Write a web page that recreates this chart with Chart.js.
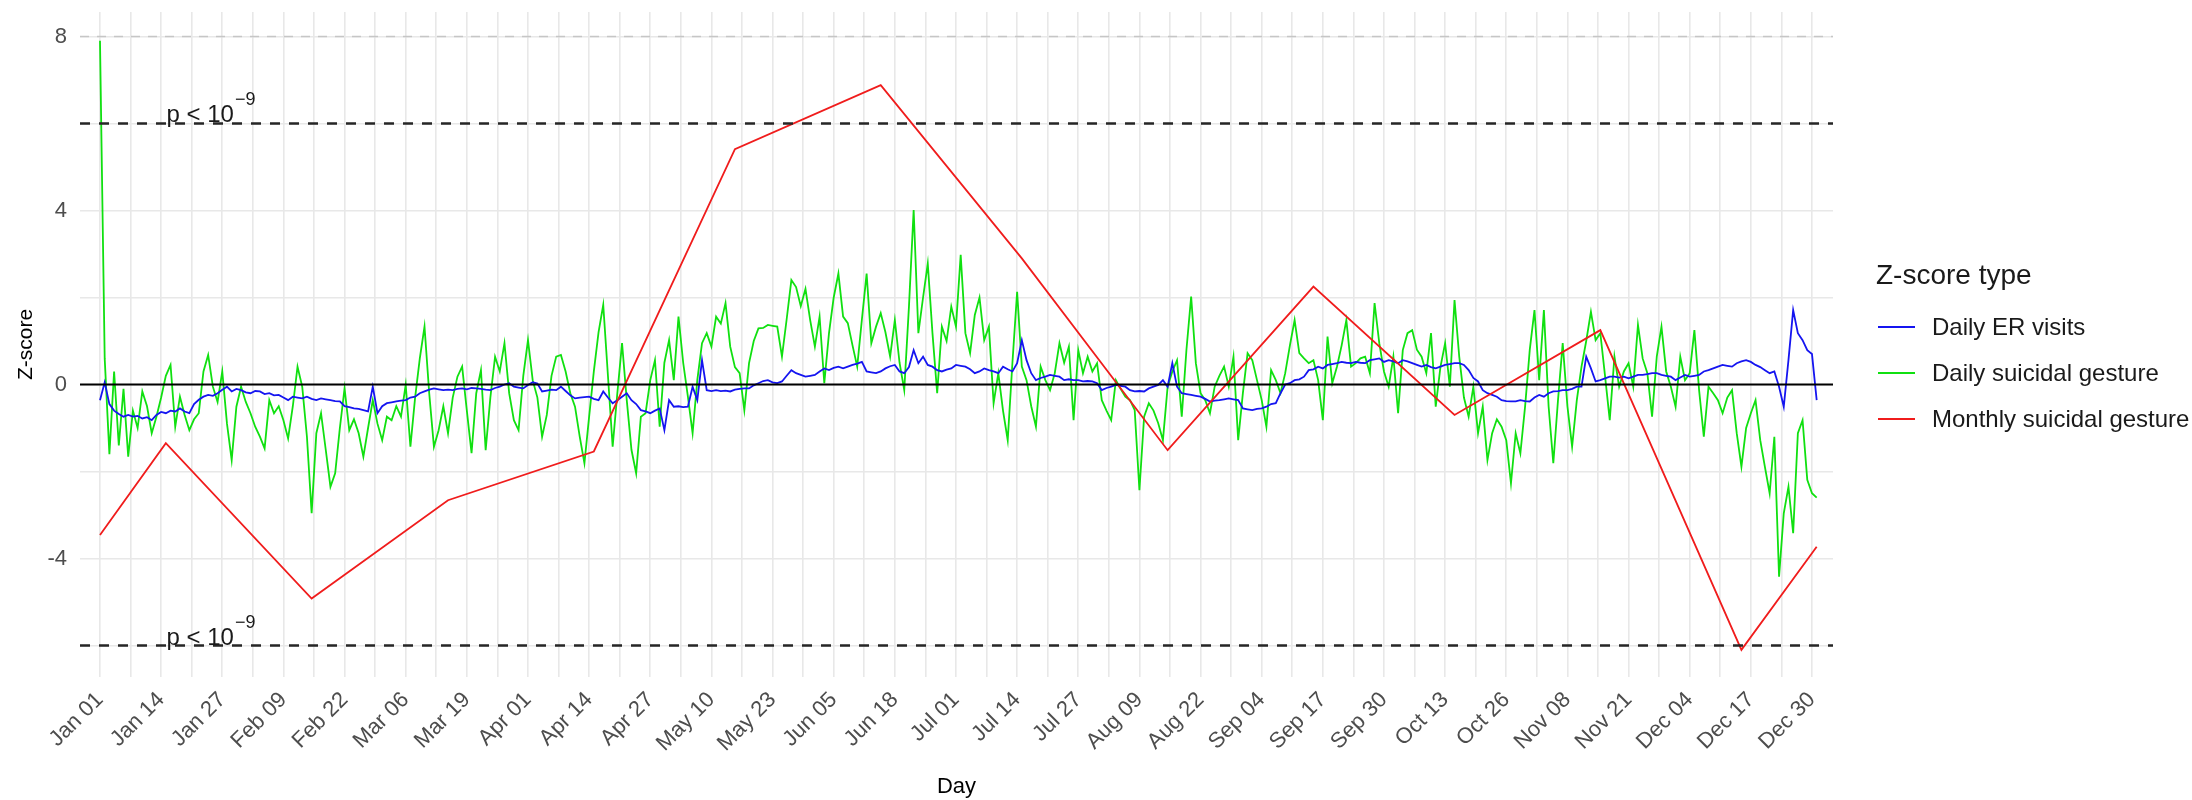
<!DOCTYPE html>
<html>
<head>
<meta charset="utf-8">
<script src="https://cdn.jsdelivr.net/npm/chart.js@4.4.1/dist/chart.umd.min.js"></script>
<style>
html,body{margin:0;padding:0;background:#ffffff;}
#wrap{width:2192px;height:800px;}
</style>
</head>
<body>
<div id="wrap"><canvas id="c" width="2192" height="800"></canvas></div>
<script>
// ---------------- DATA ----------------
const tickLabels = ['Jan 01','Jan 14','Jan 27','Feb 09','Feb 22','Mar 06','Mar 19','Apr 01','Apr 14','Apr 27','May 10','May 23','Jun 05','Jun 18','Jul 01','Jul 14','Jul 27','Aug 09','Aug 22','Sep 04','Sep 17','Sep 30','Oct 13','Oct 26','Nov 08','Nov 21','Dec 04','Dec 17','Dec 30'];
const tickDays = [0,13,26,39,52,65,78,91,104,117,130,143,156,169,182,195,208,221,234,247,260,273,286,299,312,325,338,351,364];

const yTickValues = [-6,-4,-2,0,2,4,6,8];
const yLabelledValues = [-4,0,4,8];

// Daily ER visits z-score (day 0 = Jan 01 ... day 365 = Dec 31)
const erVisitsZ = [
 -0.36,0.05,-0.45,-0.6,-0.68,-0.74,-0.7,-0.74,-0.72,-0.78,
 -0.75,-0.82,-0.7,-0.63,-0.66,-0.6,-0.62,-0.55,-0.62,-0.66,
 -0.45,-0.35,-0.28,-0.24,-0.26,-0.2,-0.12,-0.05,-0.16,-0.1,
 -0.13,-0.18,-0.2,-0.15,-0.16,-0.22,-0.2,-0.25,-0.24,-0.3,
 -0.36,-0.28,-0.3,-0.32,-0.28,-0.33,-0.36,-0.32,-0.34,-0.36,
 -0.38,-0.39,-0.5,-0.52,-0.55,-0.56,-0.59,-0.62,-0.05,-0.66,
 -0.5,-0.43,-0.41,-0.39,-0.37,-0.36,-0.3,-0.28,-0.2,-0.16,
 -0.12,-0.09,-0.11,-0.13,-0.12,-0.13,-0.1,-0.09,-0.11,-0.08,
 -0.09,-0.1,-0.12,-0.13,-0.08,-0.05,0.0,0.03,-0.05,-0.07,
 -0.09,-0.01,0.05,0.02,-0.16,-0.14,-0.12,-0.13,-0.05,-0.15,
 -0.25,-0.32,-0.3,-0.29,-0.28,-0.33,-0.36,-0.16,-0.3,-0.43,
 -0.36,-0.28,-0.2,-0.36,-0.45,-0.59,-0.62,-0.66,-0.6,-0.55,
 -1.05,-0.36,-0.51,-0.5,-0.52,-0.51,-0.05,-0.36,0.56,-0.13,
 -0.15,-0.13,-0.15,-0.14,-0.16,-0.12,-0.1,-0.09,-0.09,-0.02,
 0.03,0.08,0.1,0.05,0.03,0.07,0.2,0.33,0.26,0.22,
 0.18,0.2,0.22,0.3,0.37,0.33,0.38,0.41,0.37,0.41,
 0.45,0.48,0.52,0.3,0.28,0.26,0.3,0.37,0.42,0.45,
 0.3,0.26,0.4,0.79,0.49,0.64,0.45,0.41,0.33,0.3,
 0.34,0.37,0.45,0.43,0.41,0.35,0.26,0.3,0.37,0.33,
 0.3,0.26,0.41,0.35,0.3,0.49,1.02,0.56,0.26,0.1,
 0.15,0.18,0.22,0.2,0.18,0.1,0.12,0.1,0.1,0.07,
 0.08,0.07,0.03,-0.13,-0.08,-0.05,-0.01,-0.03,-0.05,-0.13,
 -0.16,-0.15,-0.16,-0.09,-0.05,-0.01,0.1,-0.05,0.49,-0.05,
 -0.2,-0.22,-0.24,-0.26,-0.28,-0.33,-0.39,-0.37,-0.36,-0.34,
 -0.32,-0.34,-0.36,-0.55,-0.57,-0.59,-0.56,-0.55,-0.51,-0.45,
 -0.43,-0.2,0.0,0.03,0.1,0.12,0.18,0.33,0.35,0.41,
 0.37,0.45,0.47,0.49,0.52,0.5,0.49,0.52,0.5,0.49,
 0.56,0.58,0.6,0.52,0.56,0.53,0.49,0.56,0.53,0.49,
 0.45,0.41,0.45,0.4,0.37,0.41,0.45,0.47,0.49,0.49,
 0.45,0.33,0.15,0.07,-0.13,-0.2,-0.24,-0.28,-0.36,-0.38,
 -0.39,-0.39,-0.36,-0.38,-0.39,-0.3,-0.24,-0.28,-0.2,-0.16,
 -0.15,-0.13,-0.13,-0.1,-0.05,-0.05,0.64,0.37,0.07,0.1,
 0.14,0.18,0.18,0.16,0.18,0.14,0.18,0.22,0.22,0.24,
 0.26,0.26,0.22,0.2,0.18,0.1,0.16,0.22,0.18,0.2,
 0.22,0.3,0.33,0.37,0.41,0.45,0.43,0.41,0.49,0.53,
 0.56,0.52,0.45,0.4,0.33,0.26,0.3,-0.05,-0.51,0.56,
 1.71,1.18,1.02,0.79,0.7,-0.36
];

// Daily suicidal gesture z-score
const dailyGestureZ = [
 7.9,0.6,-1.6,0.3,-1.4,-0.1,-1.66,-0.6,-1.0,-0.16,
 -0.5,-1.12,-0.74,-0.3,0.2,0.45,-0.97,-0.28,-0.7,-1.05,
 -0.8,-0.66,0.3,0.68,-0.05,-0.4,0.3,-0.9,-1.74,-0.51,
 -0.05,-0.4,-0.66,-0.97,-1.2,-1.47,-0.36,-0.66,-0.5,-0.82,
 -1.24,-0.5,0.41,-0.05,-1.2,-2.96,-1.12,-0.66,-1.5,-2.35,
 -2.04,-1.0,-0.09,-1.05,-0.8,-1.12,-1.66,-1.0,-0.36,-0.9,
 -1.28,-0.74,-0.82,-0.5,-0.74,-0.01,-1.43,-0.3,0.6,1.33,
 -0.2,-1.43,-1.05,-0.5,-1.12,-0.3,0.18,0.41,-0.6,-1.58,
 -0.2,0.33,-1.51,-0.3,0.64,0.3,0.95,-0.2,-0.82,-1.05,
 0.2,1.02,0.1,-0.3,-1.2,-0.7,0.2,0.64,0.68,0.3,
 -0.2,-0.51,-1.2,-1.81,-0.74,0.3,1.2,1.83,0.2,-1.43,
 -0.2,0.95,-0.36,-1.5,-2.04,-0.74,-0.66,0.1,0.56,-0.97,
 0.5,1.02,0.1,1.56,0.5,-0.28,-1.12,0.1,0.95,1.18,
 0.87,1.56,1.4,1.87,0.87,0.4,0.26,-0.59,0.49,1.0,
 1.29,1.3,1.37,1.35,1.33,0.64,1.5,2.4,2.24,1.8,
 2.2,1.48,0.87,1.56,0.03,1.18,2.0,2.55,1.56,1.41,
 0.9,0.41,1.5,2.55,0.95,1.33,1.64,1.2,0.64,1.48,
 0.5,-0.13,1.79,4.01,1.18,2.0,2.78,1.18,-0.2,1.33,
 1.0,1.79,1.33,2.98,1.18,0.72,1.6,2.0,1.02,1.33,
 -0.43,0.26,-0.6,-1.28,0.5,2.13,0.41,0.1,-0.5,-0.97,
 0.41,0.1,-0.13,0.26,0.95,0.5,0.87,-0.82,0.79,0.26,
 0.64,0.3,0.49,-0.36,-0.6,-0.82,0.1,-0.1,-0.28,-0.36,
 -0.59,-2.43,-0.74,-0.43,-0.6,-0.89,-1.28,-0.05,0.3,0.56,
 -0.74,0.8,2.02,0.49,-0.2,-0.36,-0.66,-0.05,0.2,0.41,
 -0.05,0.64,-1.28,-0.2,0.72,0.56,0.1,-0.36,-0.97,0.33,
 0.1,-0.2,0.26,0.9,1.48,0.72,0.6,0.49,0.56,0.1,
 -0.82,1.1,0.03,0.41,0.9,1.48,0.41,0.49,0.6,0.64,
 0.26,1.87,0.95,0.3,-0.05,0.64,-0.66,0.79,1.18,1.25,
 0.8,0.64,0.26,1.18,-0.51,0.4,0.95,-0.05,1.94,0.64,
 -0.3,-0.74,-0.05,-1.12,-0.51,-1.74,-1.12,-0.8,-0.97,-1.28,
 -2.27,-1.12,-1.58,-0.51,0.8,1.71,0.1,1.71,-0.5,-1.81,
 -0.36,0.95,-0.5,-1.43,-0.36,0.41,1.0,1.67,1.02,1.18,
 0.2,-0.82,0.64,-0.05,0.3,0.49,-0.05,1.37,0.6,0.26,
 -0.74,0.64,1.33,0.3,-0.05,-0.51,0.64,0.1,0.26,1.25,
 -0.13,-1.2,-0.05,-0.2,-0.36,-0.66,-0.3,-0.13,-1.12,-1.89,
 -1.0,-0.66,-0.36,-1.28,-1.9,-2.5,-1.2,-4.42,-2.96,-2.35,
 -3.42,-1.12,-0.82,-2.19,-2.5,-2.6
];

// Monthly suicidal gesture z-score (day of year, value)
const monthlyDays = [0,14,45,74,105,135,166,196,227,258,288,319,349,365];
const monthlyGestureZ = [-3.46,-1.35,-4.92,-2.66,-1.54,5.41,6.88,2.9,-1.51,2.25,-0.7,1.25,-6.1,-3.73];

const seriesNames = ['Daily ER visits','Daily suicidal gesture','Monthly suicidal gesture'];
const legendTitle = 'Z-score type';
const significanceLevels = [6,-6];
const topDashedLevel = 8;
const zeroLevel = 0;
const annotationDay = 23.5;

// ---------------- STYLE ----------------
const FONT = '"Liberation Sans", Arial, Helvetica, sans-serif';
const BLUE = '#1515F0';
const GREEN = '#10E010';
const RED = '#F01C1C';
const seriesColors = [BLUE, GREEN, RED];

const days = dailyGestureZ.map((_, i) => i);
const xGridValues = [];
tickDays.forEach((d, i) => {
  xGridValues.push(d);
  if (i < tickDays.length - 1) xGridValues.push((d + tickDays[i + 1]) / 2);
});

const refLinesBefore = {
  id: 'refLinesBefore',
  beforeDatasetsDraw(chart) {
    const {ctx, chartArea: a, scales: {y}} = chart;
    ctx.save();
    const py = Math.round(y.getPixelForValue(topDashedLevel)) + 0.5;
    ctx.strokeStyle = '#C6C6C6';
    ctx.lineWidth = 1.6;
    ctx.setLineDash([9, 8]);
    ctx.beginPath(); ctx.moveTo(a.left, py); ctx.lineTo(a.right, py); ctx.stroke();
    ctx.restore();
  }
};

const refLinesAfter = {
  id: 'refLinesAfter',
  afterDatasetsDraw(chart) {
    const {ctx, chartArea: a, scales: {x, y}} = chart;
    ctx.save();
    ctx.strokeStyle = '#262626';
    ctx.lineWidth = 2.4;
    ctx.setLineDash([10, 9]);
    significanceLevels.forEach(v => {
      const py = y.getPixelForValue(v);
      ctx.beginPath(); ctx.moveTo(a.left, py); ctx.lineTo(a.right, py); ctx.stroke();
    });
    ctx.setLineDash([]);
    ctx.strokeStyle = '#000000';
    ctx.lineWidth = 2.2;
    const pz = y.getPixelForValue(zeroLevel);
    ctx.beginPath(); ctx.moveTo(a.left, pz); ctx.lineTo(a.right, pz); ctx.stroke();

    // p < 10^-9 annotations
    ctx.fillStyle = '#1A1A1A';
    ctx.textAlign = 'left';
    ctx.textBaseline = 'alphabetic';
    const main = 'p < 10', sup = '\u22129';
    ctx.font = '24px ' + FONT; const wm = ctx.measureText(main).width;
    ctx.font = '18px ' + FONT; const ws = ctx.measureText(sup).width;
    const x0 = x.getPixelForValue(annotationDay) - (wm + ws) / 2;
    significanceLevels.forEach(v => {
      const by = y.getPixelForValue(v) - 1;
      ctx.font = '24px ' + FONT; ctx.fillText(main, x0, by);
      ctx.font = '18px ' + FONT; ctx.fillText(sup, x0 + wm + 1, by - 17);
    });
    ctx.restore();
  }
};

const customLegend = {
  id: 'customLegend',
  afterDraw(chart) {
    const {ctx, chartArea: a} = chart;
    const left = a.right + 43;
    const mid = (a.top + a.bottom) / 2;
    ctx.save();
    ctx.fillStyle = '#1A1A1A';
    ctx.textAlign = 'left';
    ctx.textBaseline = 'alphabetic';
    ctx.font = '28px ' + FONT;
    ctx.fillText(legendTitle, left, mid - 61);
    seriesNames.forEach((name, i) => {
      const ly = mid - 17.5 + i * 46;
      ctx.strokeStyle = seriesColors[i];
      ctx.lineWidth = 2;
      ctx.beginPath(); ctx.moveTo(left + 2, ly); ctx.lineTo(left + 39, ly); ctx.stroke();
      ctx.font = '24px ' + FONT;
      ctx.fillText(name, left + 56, ly + 8);
    });
    ctx.restore();
  }
};

const lineDs = (label, xs, ys, color) => ({
  label,
  data: xs.map((d, i) => ({x: d, y: ys[i]})),
  borderColor: color,
  backgroundColor: color,
  borderWidth: 1.8,
  pointRadius: 0,
  pointHoverRadius: 0,
  pointHitRadius: 0,
  tension: 0,
  fill: false
});

new Chart(document.getElementById('c').getContext('2d'), {
  type: 'line',
  data: {
    datasets: [
      lineDs(seriesNames[2], monthlyDays, monthlyGestureZ, RED),
      lineDs(seriesNames[0], days, erVisitsZ, BLUE),
      lineDs(seriesNames[1], days, dailyGestureZ, GREEN)
    ]
  },
  options: {
    responsive: false,
    animation: false,
    devicePixelRatio: 1,
    events: [],
    layout: {padding: {left: 0, right: 359, top: 12, bottom: 0}},
    plugins: {legend: {display: false}, tooltip: {enabled: false}},
    scales: {
      x: {
        type: 'linear',
        min: -4.25,
        max: 368.47,
        afterBuildTicks: s => { s.ticks = xGridValues.map(v => ({value: v})); },
        afterFit: s => { s.height = 123; s.paddingLeft = 0; s.paddingRight = 0; },
        ticks: {
          autoSkip: false,
          maxRotation: 45,
          minRotation: 45,
          padding: 10,
          color: '#4D4D4D',
          font: {family: FONT, size: 22},
          callback: v => { const i = tickDays.indexOf(v); return i >= 0 ? tickLabels[i] : ''; }
        },
        grid: {color: '#E8E8E8', lineWidth: 1.6, drawTicks: false},
        border: {display: false},
        title: {display: true, text: 'Day', color: '#000000', font: {family: FONT, size: 22}, padding: {top: 0, bottom: 0}}
      },
      y: {
        type: 'linear',
        min: -6.724,
        max: 8.563,
        afterBuildTicks: s => { s.ticks = yTickValues.map(v => ({value: v})); },
        afterFit: s => { s.width = 80; s.paddingTop = 0; s.paddingBottom = 0; },
        ticks: {
          padding: 13,
          color: '#4D4D4D',
          font: {family: FONT, size: 22},
          callback: v => yLabelledValues.includes(v) ? String(v) : ''
        },
        grid: {color: '#E8E8E8', lineWidth: 1.6, drawTicks: false},
        border: {display: false},
        title: {display: true, text: 'Z-score', color: '#000000', font: {family: FONT, size: 21}, padding: {top: 14, bottom: 0}}
      }
    }
  },
  plugins: [refLinesBefore, refLinesAfter, customLegend]
});
</script>
</body>
</html>
